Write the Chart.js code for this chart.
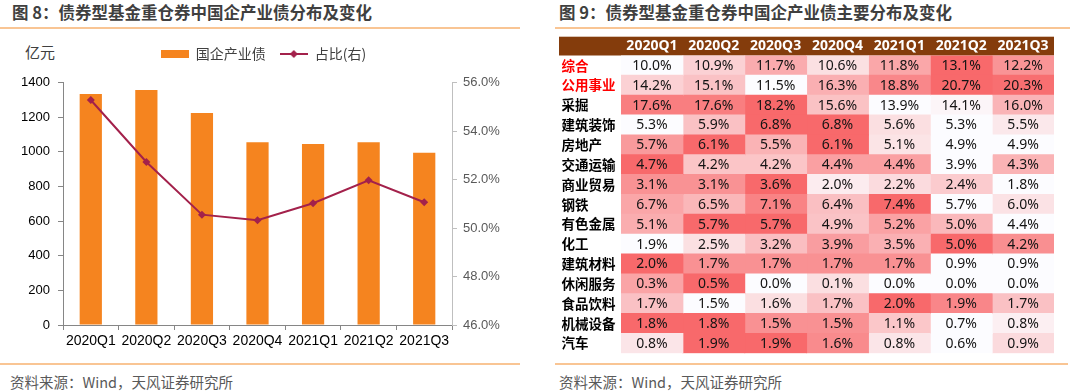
<!DOCTYPE html>
<html><head><meta charset="utf-8">
<script src="https://cdn.jsdelivr.net/npm/chart.js@4/dist/chart.umd.min.js"></script>
<style>
html,body{margin:0;padding:0;background:#fff;width:1080px;height:392px;overflow:hidden;font-family:"Noto Sans CJK SC","Noto Sans",sans-serif;}
.title{position:absolute;top:1px;font-size:16.5px;font-weight:bold;color:#3f3f3f;white-space:nowrap;line-height:22px;}
.rule{position:absolute;height:1.5px;background:#F9C594;}
.src{position:absolute;top:371px;font-size:14.5px;color:#595959;line-height:21px;white-space:nowrap;}
.unit{position:absolute;left:25px;top:41px;font-size:15px;line-height:21px;color:#404040;}
#c1{position:absolute;left:0;top:0;}
#c2{position:absolute;left:555px;top:30px;}
</style></head>
<body>
<div class="title" style="left:12px">图 8：债券型基金重仓券中国企产业债分布及变化</div>
<div class="title" style="left:559px">图 9：债券型基金重仓券中国企产业债主要分布及变化</div>
<div class="rule" style="left:0;top:27px;width:520px"></div>
<div class="rule" style="left:555px;top:27px;width:515px"></div>
<div class="rule" style="left:0;top:363px;width:520px"></div>
<div class="rule" style="left:555px;top:363px;width:513px"></div>
<div class="src" style="left:10px">资料来源：Wind，天风证券研究所</div>
<div class="src" style="left:559px">资料来源：Wind，天风证券研究所</div>
<div class="unit">亿元</div>
<canvas id="c1" width="540" height="360"></canvas>
<canvas id="c2" width="525" height="335"></canvas>
<script>
// ---------- Data: left chart ----------
const quarters = ['2020Q1','2020Q2','2020Q3','2020Q4','2021Q1','2021Q2','2021Q3'];
const soeBondAmount = [1334, 1357, 1224, 1055, 1045, 1055, 995];   // 亿元
const soeBondShare  = [55.28, 52.72, 50.55, 50.32, 51.02, 51.97, 51.06]; // %
const leftTicks  = [0, 200, 400, 600, 800, 1000, 1200, 1400];
const rightTicks = [46, 48, 50, 52, 54, 56];

// ---------- Data: right heat table ----------
const industries = ['综合','公用事业','采掘','建筑装饰','房地产','交通运输','商业贸易','钢铁','有色金属','化工','建筑材料','休闲服务','食品饮料','机械设备','汽车'];
const highlighted = ['综合','公用事业'];
const shareRows = [
  [10.0, 10.9, 11.7, 10.6, 11.8, 13.1, 12.2],
  [14.2, 15.1, 11.5, 16.3, 18.8, 20.7, 20.3],
  [17.6, 17.6, 18.2, 15.6, 13.9, 14.1, 16.0],
  [5.3, 5.9, 6.8, 6.8, 5.6, 5.3, 5.5],
  [5.7, 6.1, 5.5, 6.1, 5.1, 4.9, 4.9],
  [4.7, 4.2, 4.2, 4.4, 4.4, 3.9, 4.3],
  [3.1, 3.1, 3.6, 2.0, 2.2, 2.4, 1.8],
  [6.7, 6.5, 7.1, 6.4, 7.4, 5.7, 6.0],
  [5.1, 5.7, 5.7, 4.9, 5.2, 5.0, 4.4],
  [1.9, 2.5, 3.2, 3.9, 3.5, 5.0, 4.2],
  [2.0, 1.7, 1.7, 1.7, 1.7, 0.9, 0.9],
  [0.3, 0.5, 0.0, 0.1, 0.0, 0.0, 0.0],
  [1.7, 1.5, 1.6, 1.7, 2.0, 1.9, 1.7],
  [1.8, 1.8, 1.5, 1.5, 1.1, 0.7, 0.8],
  [0.8, 1.9, 1.9, 1.6, 0.8, 0.6, 0.9]
];

const ORANGE = '#F5841F';
const LINE = '#A3214B';

// legend swatches
function makeSwatch(kind){
  const c = document.createElement('canvas');
  c.width = 28; c.height = 10;
  const g = c.getContext('2d');
  if (kind === 'bar') { g.fillStyle = ORANGE; g.fillRect(0, 1, 28, 8); }
  else {
    g.strokeStyle = LINE; g.lineWidth = 2;
    g.beginPath(); g.moveTo(0, 5); g.lineTo(28, 5); g.stroke();
    g.fillStyle = LINE; g.beginPath();
    g.moveTo(14, 1); g.lineTo(18, 5); g.lineTo(14, 9); g.lineTo(10, 5); g.closePath(); g.fill();
  }
  return c;
}
const barSwatch = makeSwatch('bar');
const lineSwatch = makeSwatch('line');

new Chart(document.getElementById('c1'), {
  data: {
    labels: quarters,
    datasets: [
      { type: 'line', label: '占比(右)', data: soeBondShare, yAxisID: 'y1',
        borderColor: LINE, backgroundColor: LINE, borderWidth: 2,
        pointStyle: 'rectRot', pointRadius: 4, pointBackgroundColor: LINE, pointBorderWidth: 0, order: 0 },
      { type: 'bar', label: '国企产业债', data: soeBondAmount, yAxisID: 'y',
        backgroundColor: ORANGE, barPercentage: 0.4, categoryPercentage: 1.0, order: 1 }
    ]
  },
  options: {
    responsive: false, animation: false, devicePixelRatio: 1,
    layout: { padding: { top: 33, right: 13, left: 0, bottom: 0 } },
    plugins: {
      tooltip: { enabled: false },
      subtitle: { display: true, text: '', position: 'top', weight: 0, padding: 0, font: { size: 10, lineHeight: 1.15 } },
      legend: {
        display: true, position: 'top', align: 'center',
        labels: {
          usePointStyle: true, pointStyleWidth: 28, padding: 14,
          color: '#404040', font: { family: '"Noto Sans CJK SC"', size: 14 },
          generateLabels: () => [
            { text: '国企产业债', pointStyle: barSwatch, fillStyle: ORANGE, strokeStyle: ORANGE, lineWidth: 0, hidden: false, datasetIndex: 1, fontColor: '#404040' },
            { text: '占比(右)', pointStyle: lineSwatch, fillStyle: LINE, strokeStyle: LINE, lineWidth: 0, hidden: false, datasetIndex: 0, fontColor: '#404040' }
          ]
        }
      }
    },
    scales: {
      x: {
        type: 'category',
        grid: { display: true, drawOnChartArea: false, drawTicks: true, tickLength: 5, color: '#868686', offset: true },
        border: { color: '#868686', width: 1 },
        ticks: { color: '#000', font: { family: '"Liberation Sans"', size: 14 }, padding: 3, maxRotation: 0, autoSkip: false },
        afterFit: s => { s.height = 35; }
      },
      y: {
        position: 'left', min: 0, max: 1400,
        afterBuildTicks: s => { s.ticks = leftTicks.map(v => ({ value: v })); },
        grid: { display: true, drawOnChartArea: false, drawTicks: true, tickLength: 5, color: '#868686' },
        border: { color: '#868686', width: 1 },
        ticks: { color: '#000', font: { family: '"Liberation Sans"', size: 13 }, padding: 8, callback: v => String(v) },
        afterFit: s => { s.width = 63; }
      },
      y1: {
        position: 'right', min: 46, max: 56,
        afterBuildTicks: s => { s.ticks = rightTicks.map(v => ({ value: v })); },
        grid: { display: true, drawOnChartArea: false, drawTicks: true, tickLength: 5, color: '#BFBFBF' },
        border: { color: '#BFBFBF', width: 1 },
        ticks: { color: '#595959', font: { family: '"Liberation Sans"', size: 13 }, padding: 6, callback: v => v.toFixed(1) + '%' },
        afterFit: s => { s.width = 75; }
      }
    }
  }
});

// ---------- Heat table ----------
function heatColor(v, lo, hi){
  const t = hi > lo ? (v - lo) / (hi - lo) : 0;
  const a = [252, 252, 255], b = [248, 105, 107];
  const c = a.map((x, i) => Math.round(x + (b[i] - x) * t));
  return `rgb(${c[0]},${c[1]},${c[2]})`;
}
const rowMin = shareRows.map(r => Math.min(...r));
const rowMax = shareRows.map(r => Math.max(...r));

const heatDatasets = quarters.map((q, qi) => ({
  label: q,
  data: industries.map(() => [qi, qi + 1]),
  values: shareRows.map(r => r[qi]),
  backgroundColor: shareRows.map((r, ri) => heatColor(r[qi], rowMin[ri], rowMax[ri])),
  borderWidth: 0,
  barPercentage: 1.0, categoryPercentage: 1.0, grouped: false,
  inflateAmount: 0.5
}));

const headerBand = {
  id: 'headerBand',
  beforeDraw(chart) {
    const { ctx, chartArea } = chart;
    ctx.save();
    ctx.fillStyle = '#843C0C';
    ctx.fillRect(4, chartArea.top - 18.8, chartArea.right - 4, 18.8);
    ctx.restore();
  }
};
const cellText = {
  id: 'cellText',
  afterDatasetsDraw(chart) {
    const { ctx } = chart;
    ctx.save();
    ctx.font = '14px "Noto Sans"';
    ctx.fillStyle = '#141414';
    ctx.textAlign = 'center';
    ctx.textBaseline = 'middle';
    chart.data.datasets.forEach((ds, di) => {
      chart.getDatasetMeta(di).data.forEach((el, i) => {
        const p = el.getCenterPoint();
        ctx.fillText(ds.values[i].toFixed(1) + '%', p.x, p.y + 0.5);
      });
    });
    ctx.restore();
  }
};

new Chart(document.getElementById('c2'), {
  type: 'bar',
  data: { labels: industries, datasets: heatDatasets },
  plugins: [headerBand, cellText],
  options: {
    indexAxis: 'y',
    responsive: false, animation: false, devicePixelRatio: 1,
    layout: { padding: { left: 6.5, top: 6.7, right: 26, bottom: 11.7 } },
    plugins: { legend: { display: false }, tooltip: { enabled: false } },
    scales: {
      x: {
        type: 'linear', position: 'top', min: 0, max: quarters.length,
        afterBuildTicks: s => { s.ticks = quarters.map((q, i) => ({ value: i + 0.5 })); },
        grid: { display: false, drawTicks: false },
        border: { display: false },
        ticks: { color: '#fff', font: { family: '"Noto Sans"', size: 14, weight: 'bold' }, padding: 1,
                 callback: (v, i) => quarters[i], maxRotation: 0, autoSkip: false },
        afterFit: s => { s.height = 18.8; }
      },
      y: {
        type: 'category', position: 'left',
        grid: { display: false, drawTicks: false },
        border: { display: false },
        ticks: { crossAlign: 'far', padding: 0, autoSkip: false,
                 font: { family: '"Noto Sans CJK SC"', size: 13.5, weight: 'bold' },
                 color: c => highlighted.includes(industries[c.index]) ? '#FF0000' : '#000' },
        afterFit: s => { s.width = 59.5; }
      }
    }
  }
});
</script>
</body></html>
